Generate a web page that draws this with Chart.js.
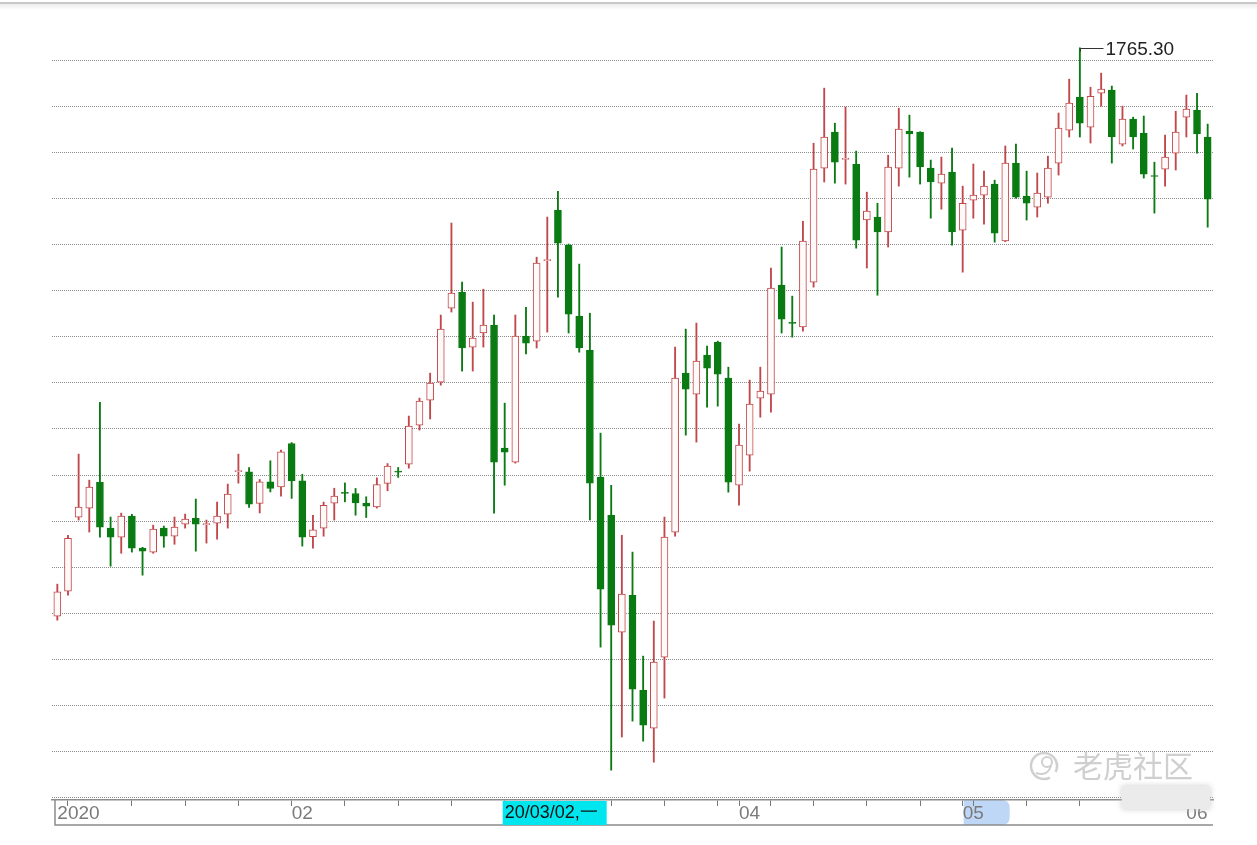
<!DOCTYPE html>
<html><head><meta charset="utf-8">
<script src="https://cdn.jsdelivr.net/npm/chart.js@4.4.1/dist/chart.umd.min.js"></script>
<style>html,body{margin:0;padding:0;background:#fff;overflow:hidden}canvas{display:block}</style>
</head><body>
<canvas id="c" width="1257" height="845"></canvas>
<script>
const categories = [
'01/02','01/03','01/06','01/07','01/08','01/09','01/10','01/13','01/14','01/15','01/16','01/17','01/20','01/21','01/22','01/23','01/24','01/27','01/28','01/29','01/30','01/31',
'02/03','02/04','02/05','02/06','02/07','02/10','02/11','02/12','02/13','02/14','02/17','02/18','02/19','02/20','02/21','02/24','02/25','02/26','02/27','02/28',
'03/02','03/03','03/04','03/05','03/06','03/09','03/10','03/11','03/12','03/13','03/16','03/17','03/18','03/19','03/20','03/23','03/24','03/25','03/26','03/27','03/30','03/31',
'04/01','04/02','04/03','04/06','04/07','04/08','04/09','04/13','04/14','04/15','04/16','04/17','04/20','04/21','04/22','04/23','04/24','04/27','04/28','04/29','04/30',
'05/01','05/04','05/05','05/06','05/07','05/08','05/11','05/12','05/13','05/14','05/15','05/18','05/19','05/20','05/21','05/22','05/25','05/26','05/27','05/28','05/29',
'06/01','06/02','06/03'];

const openPrices = [
1518.8,1529.7,1561.8,1565.7,1576.9,1557.0,1553.1,1562.2,1548.3,1546.6,1557.0,1553.5,1558.7,1561.3,1558.5,1559.1,1563.1,1581.5,1581.4,1567.7,1577.1,1574.9,
1593.7,1577.5,1553.3,1557.0,1567.8,1572.4,1572.0,1567.9,1566.2,1576.4,1581.6,1584.7,1601.7,1612.5,1620.3,1652.4,1659.3,1635.5,1641.6,1645.0,
1591.7,1585.6,1640.3,1638.1,1673.0,1694.9,1679.7,1648.9,1634.2,1579.1,1562.6,1511.9,1527.9,1486.7,1470.3,1501.0,1555.2,1624.2,1615.1,1632.0,1637.6,1622.1,
1575.6,1588.6,1613.4,1615.1,1662.4,1646.0,1644.2,1663.7,1713.1,1728.7,1716.9,1714.8,1690.6,1691.9,1685.4,1713.1,1729.2,1728.7,1713.1,1706.6,1711.4,
1686.2,1699.2,1701.4,1706.2,1681.5,1715.3,1701.0,1696.2,1700.5,1715.3,1729.6,1743.9,1730.9,1745.6,1747.0,1723.5,1734.4,1728.3,1709.8,1712.7,1719.6,
1735.2,1738.3,1726.6];
const highPrices = [
1532.7,1553.9,1589.1,1577.8,1611.6,1561.8,1563.5,1563.0,1548.7,1558.3,1557.9,1561.8,1563.1,1569.6,1560.5,1568.3,1576.1,1589.1,1583.3,1578.1,1586.2,1590.8,
1594.1,1580.3,1562.6,1568.3,1574.3,1576.6,1574.2,1570.6,1578.8,1585.0,1583.3,1605.6,1613.4,1624.2,1649.4,1689.3,1663.7,1655.0,1660.6,1649.4,
1611.2,1649.4,1652.8,1674.5,1691.9,1703.1,1680.2,1671.5,1650.2,1598.2,1575.6,1553.9,1546.6,1501.5,1516.7,1561.8,1635.5,1643.3,1645.9,1635.9,1638.1,1626.8,
1602.1,1621.2,1626.8,1669.8,1678.9,1657.6,1690.1,1723.9,1747.8,1732.6,1739.6,1720.5,1702.7,1697.9,1718.7,1739.1,1736.1,1728.9,1716.6,1717.9,1721.8,
1705.3,1714.9,1711.8,1707.9,1722.7,1723.5,1711.8,1711.0,1718.3,1737.0,1751.7,1765.3,1748.2,1754.3,1748.7,1740.0,1735.2,1735.7,1715.7,1727.4,1737.8,
1744.8,1745.6,1732.2];
const lowPrices = [
1517.1,1527.9,1560.5,1555.3,1553.1,1540.5,1546.1,1546.6,1536.6,1546.1,1548.7,1550.0,1557.0,1547.0,1550.5,1552.2,1557.0,1576.5,1566.0,1563.6,1572.7,1570.9,
1569.9,1549.2,1548.3,1553.5,1560.5,1568.4,1562.6,1561.6,1565.7,1573.2,1579.0,1583.0,1599.5,1604.3,1619.0,1650.7,1625.1,1625.1,1635.5,1563.5,
1575.6,1585.2,1632.5,1635.1,1642.0,1657.2,1641.6,1633.3,1560.5,1505.4,1452.0,1466.4,1473.3,1464.6,1455.5,1483.3,1553.5,1597.3,1594.3,1609.5,1609.9,1572.6,
1566.9,1581.7,1605.1,1607.3,1641.6,1639.8,1642.4,1661.5,1707.1,1706.6,1706.2,1678.4,1669.8,1658.0,1678.9,1705.3,1709.2,1706.2,1691.4,1695.3,1679.7,
1668.0,1691.4,1688.8,1681.0,1681.2,1700.1,1690.6,1691.9,1697.9,1710.1,1726.6,1726.6,1724.0,1740.0,1715.3,1722.7,1721.4,1708.8,1693.6,1705.3,1712.3,
1726.6,1719.6,1687.5];
const closePrices = [
1529.4,1552.6,1566.1,1574.8,1557.4,1553.1,1562.2,1548.3,1547.0,1556.6,1553.5,1557.4,1560.9,1558.7,1559.0,1562.2,1571.8,1581.9,1567.4,1577.1,1574.2,1590.1,
1577.5,1553.1,1556.3,1566.9,1570.9,1572.1,1567.9,1566.5,1575.9,1583.9,1581.3,1601.2,1612.1,1619.9,1643.3,1658.9,1635.1,1639.4,1645.0,1585.6,
1589.9,1640.3,1637.2,1671.9,1673.3,1680.6,1649.8,1635.1,1576.5,1530.5,1514.9,1528.4,1487.2,1471.6,1498.9,1553.1,1622.1,1617.3,1629.4,1626.4,1623.8,1576.9,
1593.0,1610.8,1616.4,1661.1,1647.6,1645.8,1681.5,1712.7,1726.6,1715.7,1717.2,1681.9,1694.5,1685.4,1713.6,1730.0,1727.9,1713.6,1707.1,1710.5,1685.4,
1697.9,1701.4,1705.3,1684.9,1715.3,1700.5,1697.9,1702.3,1713.1,1730.5,1741.3,1732.6,1744.3,1747.4,1726.6,1734.4,1726.6,1710.5,1709.5,1717.9,1728.7,
1738.7,1727.9,1699.7];

const gridValues = [1440,1460,1480,1500,1520,1540,1560,1580,1600,1620,1640,1660,1680,1700,1720,1740,1760];
const labelDates = ['01/02','02/03','04/01','05/01','06/01'];
const labelTexts = ['2020','02','04','05','06'];
const tickDates = ['01/03','01/13','01/20','01/27','02/03','02/10','02/17','02/24','03/02','03/09','03/16','03/23','03/30','04/01','04/06','04/13','04/20','04/27','05/01','05/04','05/11','05/18','05/25','06/01'];
const cursorDate = '03/02';
const cursorText = '20/03/02,一';
const highlightDate = '05/01';
const watermarkText = '老虎社区';

const UP = '#c0474a', UP_FILL = '#fffafa', DOWN = '#0a7a12';
const isUp = i => closePrices[i] >= openPrices[i];
const FONT = "'Liberation Sans', Arial, sans-serif";

const decor = {
  id: 'decor',
  beforeDraw(chart) {
    const ctx = chart.ctx, xs = chart.scales.x;
    ctx.save();
    ctx.fillStyle = '#c8c8c8'; ctx.fillRect(0, 2, chart.width, 2);
    const g = ctx.createLinearGradient(0, 4, 0, 10);
    g.addColorStop(0, 'rgba(0,0,0,0.07)'); g.addColorStop(1, 'rgba(0,0,0,0)');
    ctx.fillStyle = g; ctx.fillRect(0, 4, chart.width, 6);
    const hx = xs.getPixelForValue(categories.indexOf(highlightDate)) + 1;
    const by = chart.chartArea.bottom;
    ctx.fillStyle = '#bfd7f6';
    ctx.beginPath();
    ctx.moveTo(hx, by); ctx.lineTo(hx + 38, by);
    ctx.quadraticCurveTo(hx + 46, by, hx + 46, by + 8);
    ctx.lineTo(hx + 46, by + 17);
    ctx.quadraticCurveTo(hx + 46, by + 25, hx + 38, by + 25);
    ctx.lineTo(hx, by + 25); ctx.closePath(); ctx.fill();
    ctx.restore();
  },
  afterDatasetsDraw(chart) {
    const ctx = chart.ctx, xs = chart.scales.x, ys = chart.scales.y;
    let idx = 0;
    highPrices.forEach((v, i) => { if (v > highPrices[idx]) idx = i; });
    const px = Math.round(xs.getPixelForValue(idx)) + 0.5;
    const py = Math.round(ys.getPixelForValue(highPrices[idx])) + 0.5;
    ctx.save();
    ctx.strokeStyle = '#333'; ctx.lineWidth = 1;
    ctx.beginPath(); ctx.moveTo(px, py + 3); ctx.lineTo(px, py); ctx.lineTo(px + 23, py); ctx.stroke();
    ctx.fillStyle = '#222'; ctx.font = '19px ' + FONT;
    ctx.textBaseline = 'middle'; ctx.textAlign = 'left';
    ctx.fillText(highPrices[idx].toFixed(2), px + 25, py + 1);
    ctx.restore();
  },
  afterDraw(chart) {
    const ctx = chart.ctx, xs = chart.scales.x, ca = chart.chartArea;
    ctx.save();
    ctx.strokeStyle = '#8c8c8c'; ctx.lineWidth = 1.5;
    ctx.beginPath(); ctx.moveTo(55, ca.bottom); ctx.lineTo(55, ca.bottom + 25); ctx.lineTo(ca.right, ca.bottom + 25); ctx.stroke();
    const cx = xs.getPixelForValue(categories.indexOf(cursorDate)) - 2;
    ctx.fillStyle = '#00e6ef'; ctx.fillRect(cx, ca.bottom + 1, 104, 24);
    ctx.fillStyle = '#111'; ctx.font = '18px ' + FONT;
    ctx.textBaseline = 'middle'; ctx.textAlign = 'left';
    ctx.fillText(cursorText, cx + 2, ca.bottom + 13);
    ctx.shadowColor = 'rgba(200,200,200,0.9)'; ctx.shadowBlur = 6;
    ctx.fillStyle = '#ebebeb'; ctx.fillRect(1122, 786, 88, 23);
    ctx.shadowBlur = 0;
    ctx.strokeStyle = 'rgba(195,195,195,0.8)'; ctx.lineWidth = 2.5;
    ctx.beginPath(); ctx.arc(1044, 766, 13, 0.35 * Math.PI, 2.15 * Math.PI); ctx.stroke();
    ctx.lineWidth = 2;
    ctx.beginPath(); ctx.arc(1047, 762, 5, 0, 2 * Math.PI); ctx.stroke();
    ctx.beginPath(); ctx.moveTo(1051, 766); ctx.quadraticCurveTo(1047, 777, 1036, 773); ctx.stroke();
    ctx.fillStyle = 'rgba(195,195,195,0.8)';
    ctx.font = "30px 'Noto Sans CJK SC', sans-serif";
    ctx.textBaseline = 'middle';
    ctx.fillText(watermarkText, 1073, 766);
    ctx.restore();
  }
};

new Chart(document.getElementById('c'), {
  type: 'bar',
  data: {
    labels: categories,
    datasets: [
      {
        label: 'body',
        data: categories.map((_, i) => [openPrices[i], closePrices[i]]),
        grouped: false,
        barThickness: 7,
        minBarLength: 1,
        borderWidth: 1,
        borderSkipped: false,
        backgroundColor: ctx => isUp(ctx.dataIndex) ? UP_FILL : DOWN,
        borderColor: ctx => isUp(ctx.dataIndex) ? UP : DOWN
      },
      {
        label: 'wick',
        data: categories.map((_, i) => [lowPrices[i], highPrices[i]]),
        grouped: false,
        barThickness: 1.2,
        borderWidth: 0,
        backgroundColor: ctx => isUp(ctx.dataIndex) ? UP : DOWN
      }
    ]
  },
  options: {
    responsive: false,
    animation: false,
    devicePixelRatio: 1,
    layout: { padding: { top: 20, right: 44, left: 0, bottom: 0 } },
    plugins: { legend: { display: false }, tooltip: { enabled: false } },
    scales: {
      x: {
        type: 'category',
        offset: true,
        afterFit(s) { s.height = 45; },
        grid: {
          display: true, drawOnChartArea: false, drawTicks: true, offset: false,
          tickLength: 6, tickWidth: 1,
          tickColor: c => tickDates.includes(categories[c.index]) ? '#777' : 'rgba(0,0,0,0)'
        },
        border: { display: true, color: '#8c8c8c', width: 1.5 },
        ticks: {
          autoSkip: false, maxRotation: 0, minRotation: 0, align: 'start', padding: -4,
          color: '#7a7a7a', font: { family: FONT, size: 19 },
          callback: (v, i) => { const k = labelDates.indexOf(categories[i]); return k >= 0 ? labelTexts[k] : ''; }
        }
      },
      y: {
        type: 'linear',
        min: 1439.1, max: 1777.35,
        afterFit(s) { s.width = 52; },
        afterBuildTicks(s) { s.ticks = gridValues.map(v => ({ value: v })); },
        ticks: { display: false },
        grid: { color: '#8a8a8a', lineWidth: 1, drawTicks: false },
        border: { display: false, dash: [1, 1] }
      }
    }
  },
  plugins: [decor]
});
</script>
</body></html>
